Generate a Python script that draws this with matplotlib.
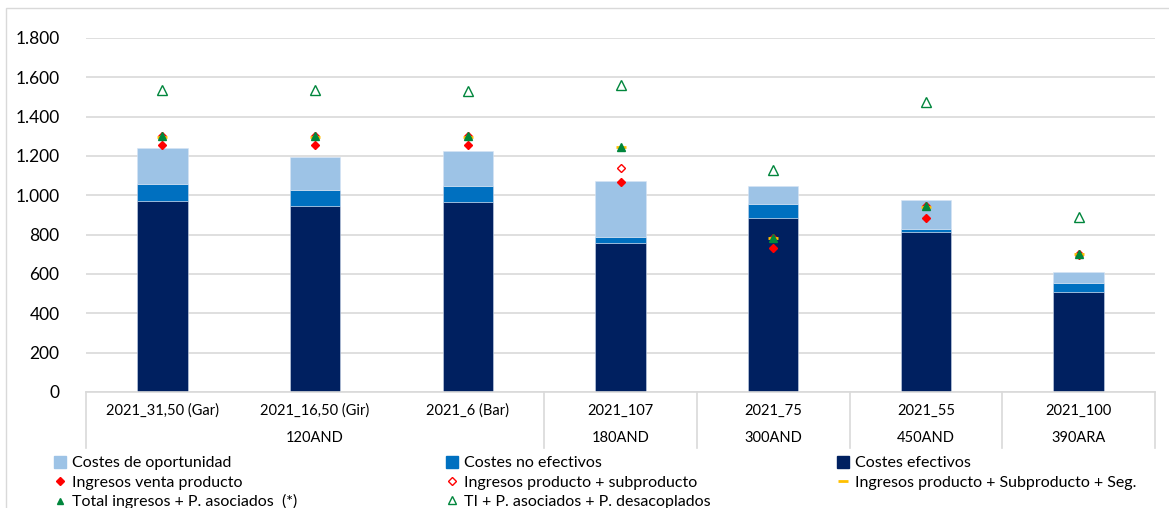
import matplotlib
matplotlib.use("Agg")
import matplotlib.pyplot as plt
import matplotlib.patches as mpatches
import matplotlib.transforms as mtransforms
from matplotlib.lines import Line2D
from matplotlib.ticker import FuncFormatter

plt.rcParams['font.family'] = ['Lato', 'DejaVu Sans']

## Data
categories = ['2021_31,50 (Gar)', '2021_16,50 (Gir)', '2021_6 (Bar)', '2021_107',
              '2021_75', '2021_55', '2021_100']
groups = ['120AND', '180AND', '300AND', '450AND', '390ARA']
group_sizes = [3, 1, 1, 1, 1]

costes_efectivos = [970, 945, 965, 757, 885, 813, 508]
costes_no_efectivos = [87, 82, 82, 31, 71, 16, 46]
costes_oportunidad = [183, 168, 178, 285, 91, 147, 56]

ingresos_venta = [1256, 1256, 1256, 1068, 732, 885, 697]
ingresos_prod_sub = [1303, 1303, 1303, 1139, 785, 945, 700]
ingresos_prod_sub_seg = [1298, 1298, 1298, 1245, 783, 943, 700]
total_ingresos = [1300, 1300, 1300, 1245, 783, 945, 700]
ti_desacoplados = [1535, 1535, 1532, 1561, 1129, 1474, 890]

## Colors
c_oport = '#9dc3e6'
c_noef = '#0070c0'
c_ef = '#002060'
c_red = '#ff0000'
c_green = '#00863c'
c_orange = '#ffc000'

fig = plt.figure(figsize=(11.69, 5.08), dpi=100)
ax = fig.add_axes([86 / 1169, 1 - 392 / 508, (1155 - 86) / 1169, 354 / 508])

x = list(range(len(categories)))
w = 0.33
bottom2 = costes_efectivos
bottom3 = [a + b for a, b in zip(costes_efectivos, costes_no_efectivos)]
ax.bar(x, costes_efectivos, w, color=c_ef, edgecolor='#c9d6ea', linewidth=0.4, zorder=2)
ax.bar(x, costes_no_efectivos, w, bottom=bottom2, color=c_noef, edgecolor='#c9d6ea', linewidth=0.4, zorder=2)
ax.bar(x, costes_oportunidad, w, bottom=bottom3, color=c_oport, edgecolor='#d6e5f4', linewidth=0.4, zorder=2)

ax.plot(x, ti_desacoplados, ls='none', marker='^', ms=6.5, mfc='none', mec=c_green, mew=1, zorder=3)
ax.plot(x, ingresos_prod_sub, ls='none', marker='D', ms=4.5, mfc='none', mec=c_red, mew=1, zorder=3)
ax.plot(x, ingresos_venta, ls='none', marker='D', ms=4.3, color=c_red, zorder=3)
ax.plot(x, ingresos_prod_sub_seg, ls='none', marker='_', ms=7, mew=2, color=c_orange, zorder=4)
ax.plot(x, total_ingresos, ls='none', marker='^', ms=5.5, color=c_green, zorder=5)

ax.set_xlim(-0.5, len(categories) - 0.5)
ax.set_ylim(0, 1800)
ax.set_yticks(range(0, 1801, 200))
ax.yaxis.set_major_formatter(FuncFormatter(lambda v, p: f'{int(v):,}'.replace(',', '.')))
ax.tick_params(axis='y', length=0, pad=19, labelsize=12.5, colors='#000000')
ax.grid(axis='y', color='#d9d9d9', linewidth=1.2, zorder=0)
ax.set_axisbelow(True)
for s in ['top', 'right', 'left']:
    ax.spines[s].set_visible(False)
ax.spines['bottom'].set_color('#d9d9d9')
ax.spines['bottom'].set_linewidth(1.2)

## Multilevel x axis
ax.set_xticks([])
trans = mtransforms.blended_transform_factory(ax.transData, ax.transAxes)
for i, c in enumerate(categories):
    ax.text(i, -19 / 354, c, transform=trans, ha='center', va='center', fontsize=10.5)
start = 0
sep_len = 56 / 354
ax.plot([-0.5, -0.5], [0, -sep_len], transform=trans, color='#d9d9d9', lw=1.2, clip_on=False)
for g, n in zip(groups, group_sizes):
    ax.text(start + (n - 1) / 2, -46 / 354, g, transform=trans, ha='center', va='center', fontsize=10.5)
    start += n
    ax.plot([start - 0.5, start - 0.5], [0, -sep_len], transform=trans, color='#d9d9d9', lw=1.2, clip_on=False)

## Figure border
fig.patches.append(mpatches.Rectangle((6 / 1169, -0.1), 1.2, 1 - 8 / 508 + 0.1, transform=fig.transFigure,
                                      fill=False, edgecolor='#d9d9d9', linewidth=1))

## Legend: one column each, placed where the original columns start
h_oport = mpatches.Patch(color=c_oport, label='Costes de oportunidad')
h_noef = mpatches.Patch(color=c_noef, label='Costes no efectivos')
h_ef = mpatches.Patch(color=c_ef, label='Costes efectivos')
h_venta = Line2D([], [], ls='none', marker='D', ms=4, color=c_red, label='Ingresos venta producto')
h_sub = Line2D([], [], ls='none', marker='D', ms=4, mfc='none', mec=c_red, label='Ingresos producto + subproducto')
h_seg = Line2D([], [], ls='none', marker='_', ms=7, mew=2, color=c_orange, label='Ingresos producto + Subproducto + Seg.')
h_total = Line2D([], [], ls='none', marker='^', ms=5, color=c_green, label='Total ingresos + P. asociados  (*)')
h_ti = Line2D([], [], ls='none', marker='^', ms=6, mfc='none', mec=c_green, label='TI + P. asociados + P. desacoplados')
columns = [([h_oport, h_venta, h_total], 54), ([h_noef, h_sub, h_ti], 446), ([h_ef, h_seg], 837)]
for col_handles, x0 in columns:
    fig.legend(handles=col_handles, loc='upper left',
               bbox_to_anchor=(x0 / 1169, 1 - 456 / 508),
               frameon=False, fontsize=11.5, borderpad=0, borderaxespad=0,
               handlelength=0.75, handleheight=0.75, handletextpad=0.35, labelspacing=0.3)

fig.savefig('out.png', dpi=100)
